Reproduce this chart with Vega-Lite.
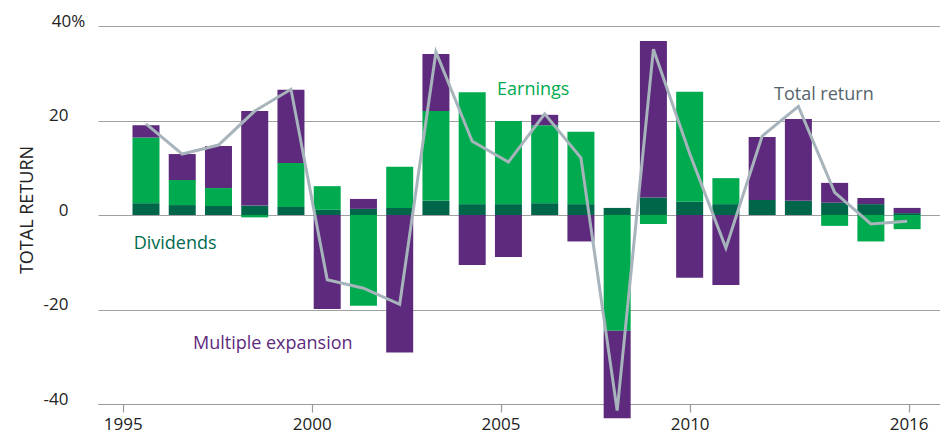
{
  "$schema": "https://vega.github.io/schema/vega-lite/v6.json",
  "width": 842,
  "height": 378,
  "autosize": "none",
  "padding": {"left": 98, "top": 26, "right": 0, "bottom": 29},
  "background": "white",
  "config": {"view": {"stroke": null}, "font": "Open Sans"},
  "datasets": {
    "components": [
      {"year": 1995, "component": "Dividends", "value": 2.5},
      {"year": 1995, "component": "Earnings", "value": 13.9},
      {"year": 1995, "component": "Multiple expansion", "value": 2.6},
      {"year": 1996, "component": "Dividends", "value": 2.1},
      {"year": 1996, "component": "Earnings", "value": 5.3},
      {"year": 1996, "component": "Multiple expansion", "value": 5.5},
      {"year": 1997, "component": "Dividends", "value": 1.9},
      {"year": 1997, "component": "Earnings", "value": 3.8},
      {"year": 1997, "component": "Multiple expansion", "value": 8.9},
      {"year": 1998, "component": "Dividends", "value": 2.0},
      {"year": 1998, "component": "Earnings", "value": -0.5},
      {"year": 1998, "component": "Multiple expansion", "value": 20.0},
      {"year": 1999, "component": "Dividends", "value": 1.7},
      {"year": 1999, "component": "Earnings", "value": 9.3},
      {"year": 1999, "component": "Multiple expansion", "value": 15.5},
      {"year": 2000, "component": "Dividends", "value": 1.1},
      {"year": 2000, "component": "Earnings", "value": 5.0},
      {"year": 2000, "component": "Multiple expansion", "value": -19.9},
      {"year": 2001, "component": "Dividends", "value": 1.3},
      {"year": 2001, "component": "Earnings", "value": -19.2},
      {"year": 2001, "component": "Multiple expansion", "value": 2.1},
      {"year": 2002, "component": "Dividends", "value": 1.5},
      {"year": 2002, "component": "Earnings", "value": 8.7},
      {"year": 2002, "component": "Multiple expansion", "value": -29.1},
      {"year": 2003, "component": "Dividends", "value": 3.0},
      {"year": 2003, "component": "Earnings", "value": 19.0},
      {"year": 2003, "component": "Multiple expansion", "value": 12.1},
      {"year": 2004, "component": "Dividends", "value": 2.3},
      {"year": 2004, "component": "Earnings", "value": 23.7},
      {"year": 2004, "component": "Multiple expansion", "value": -10.6},
      {"year": 2005, "component": "Dividends", "value": 2.3},
      {"year": 2005, "component": "Earnings", "value": 17.6},
      {"year": 2005, "component": "Multiple expansion", "value": -8.9},
      {"year": 2006, "component": "Dividends", "value": 2.5},
      {"year": 2006, "component": "Earnings", "value": 16.5},
      {"year": 2006, "component": "Multiple expansion", "value": 2.2},
      {"year": 2007, "component": "Dividends", "value": 2.3},
      {"year": 2007, "component": "Earnings", "value": 15.3},
      {"year": 2007, "component": "Multiple expansion", "value": -5.6},
      {"year": 2008, "component": "Dividends", "value": 1.5},
      {"year": 2008, "component": "Earnings", "value": -24.5},
      {"year": 2008, "component": "Multiple expansion", "value": -18.5},
      {"year": 2009, "component": "Dividends", "value": 3.7},
      {"year": 2009, "component": "Earnings", "value": -1.9},
      {"year": 2009, "component": "Multiple expansion", "value": 33.1},
      {"year": 2010, "component": "Dividends", "value": 2.8},
      {"year": 2010, "component": "Earnings", "value": 23.3},
      {"year": 2010, "component": "Multiple expansion", "value": -13.3},
      {"year": 2011, "component": "Dividends", "value": 2.3},
      {"year": 2011, "component": "Earnings", "value": 5.5},
      {"year": 2011, "component": "Multiple expansion", "value": -14.8},
      {"year": 2012, "component": "Dividends", "value": 3.2},
      {"year": 2012, "component": "Earnings", "value": 0},
      {"year": 2012, "component": "Multiple expansion", "value": 13.3},
      {"year": 2013, "component": "Dividends", "value": 3.0},
      {"year": 2013, "component": "Earnings", "value": 0},
      {"year": 2013, "component": "Multiple expansion", "value": 17.3},
      {"year": 2014, "component": "Dividends", "value": 2.6},
      {"year": 2014, "component": "Earnings", "value": -2.3},
      {"year": 2014, "component": "Multiple expansion", "value": 4.2},
      {"year": 2015, "component": "Dividends", "value": 2.3},
      {"year": 2015, "component": "Earnings", "value": -5.6},
      {"year": 2015, "component": "Multiple expansion", "value": 1.3},
      {"year": 2016, "component": "Dividends", "value": 0.4},
      {"year": 2016, "component": "Earnings", "value": -3.0},
      {"year": 2016, "component": "Multiple expansion", "value": 1.1}
    ],
    "totals": [
      {"year": 1995, "value": 19.3},
      {"year": 1996, "value": 12.9},
      {"year": 1997, "value": 14.8},
      {"year": 1998, "value": 22.0},
      {"year": 1999, "value": 26.6},
      {"year": 2000, "value": -13.7},
      {"year": 2001, "value": -15.5},
      {"year": 2002, "value": -18.9},
      {"year": 2003, "value": 34.5},
      {"year": 2004, "value": 15.6},
      {"year": 2005, "value": 11.2},
      {"year": 2006, "value": 21.4},
      {"year": 2007, "value": 12.1},
      {"year": 2008, "value": -41.4},
      {"year": 2009, "value": 35.1},
      {"year": 2010, "value": 13.0},
      {"year": 2011, "value": -7.0},
      {"year": 2012, "value": 16.7},
      {"year": 2013, "value": 23.0},
      {"year": 2014, "value": 4.8},
      {"year": 2015, "value": -1.9},
      {"year": 2016, "value": -1.3}
    ],
    "labels": [
      {"label": "Earnings", "year": 2005.684, "value": 25.3},
      {"label": "Total return", "year": 2013.702, "value": 24.3},
      {"label": "Dividends", "year": 1995.804, "value": -7.2},
      {"label": "Multiple expansion", "year": 1998.498, "value": -28.36}
    ],
    "baseline": [{"value": 0}]
  },
  "encoding": {
    "x": {
      "field": "year", "type": "quantitative",
      "scale": {"domain": [1993.814, 2016.769], "nice": false, "zero": false},
      "axis": {
        "values": [1994.359, 1999.575, 2004.782, 2009.999, 2016.041],
        "labelExpr": "datum.value < 1997 ? '1995' : datum.value < 2002 ? '2000' : datum.value < 2007 ? '2005' : datum.value < 2012 ? '2010' : '2016'",
        "title": null, "grid": false, "zindex": 0,
        "domain": true, "domainColor": "#9a9a9a", "domainWidth": 1.2,
        "ticks": true, "tickColor": "#9a9a9a", "tickSize": 8, "tickWidth": 1.2,
        "labelFont": "Open Sans", "labelFontSize": 17, "labelColor": "#222222",
        "labelPadding": 4, "labelFlush": false, "labelOverlap": false,
        "labelBaseline": "top", "labelAlign": "center"
      }
    },
    "y": {
      "field": "value", "type": "quantitative",
      "scale": {"domain": [-40, 40], "nice": false, "zero": false},
      "axis": {
        "values": [-40, -20, 0, 20, 40],
        "labelExpr": "datum.value == 40 ? '40%' : '' + datum.value",
        "labelAlign": {"condition": {"test": "datum.value == 40", "value": "center"}, "value": "right"},
        "labelBaseline": "alphabetic", "labelPadding": 30, "labelFlush": false,
        "labelFont": "Open Sans", "labelFontSize": 17, "labelColor": "#222222",
        "domain": false, "ticks": false, "zindex": 0,
        "grid": true, "gridColor": "#a0a0a0", "gridWidth": 1.2,
        "title": "TOTAL RETURN", "titleFont": "Open Sans", "titleFontSize": 18,
        "titleFontWeight": "normal", "titleColor": "#222222",
        "titleX": -66, "titleY": 183.5, "titleAngle": 270,
        "titleBaseline": "alphabetic", "titleAlign": "center"
      }
    }
  },
  "layer": [
    {
      "data": {"name": "components"},
      "mark": {"type": "bar", "size": 27, "clip": false},
      "encoding": {
        "color": {
          "field": "component", "type": "nominal",
          "scale": {"domain": ["Dividends", "Earnings", "Multiple expansion"], "range": ["#00664A", "#00AB4F", "#5E2A7E"]},
          "legend": null
        },
        "order": {"field": "component", "type": "nominal"}
      }
    },
    {
      "data": {"name": "baseline"},
      "mark": {"type": "rule", "color": "#5f5f5f", "strokeWidth": 2},
      "encoding": {
        "x": {"datum": 1993.814, "type": "quantitative"},
        "x2": {"datum": 2016.769}
      }
    },
    {
      "data": {"name": "totals"},
      "mark": {"type": "line", "color": "#A8B4BC", "strokeWidth": 3, "clip": false}
    },
    {
      "data": {"name": "labels"},
      "mark": {"type": "text", "font": "Open Sans", "fontSize": 18, "align": "center", "baseline": "alphabetic"},
      "encoding": {
        "text": {"field": "label"},
        "color": {
          "field": "label", "type": "nominal",
          "scale": {"domain": ["Dividends", "Earnings", "Multiple expansion", "Total return"], "range": ["#006B4E", "#00AB4F", "#5E2A7E", "#56646C"]},
          "legend": null
        }
      }
    }
  ],
  "resolve": {"scale": {"color": "independent"}}
}
